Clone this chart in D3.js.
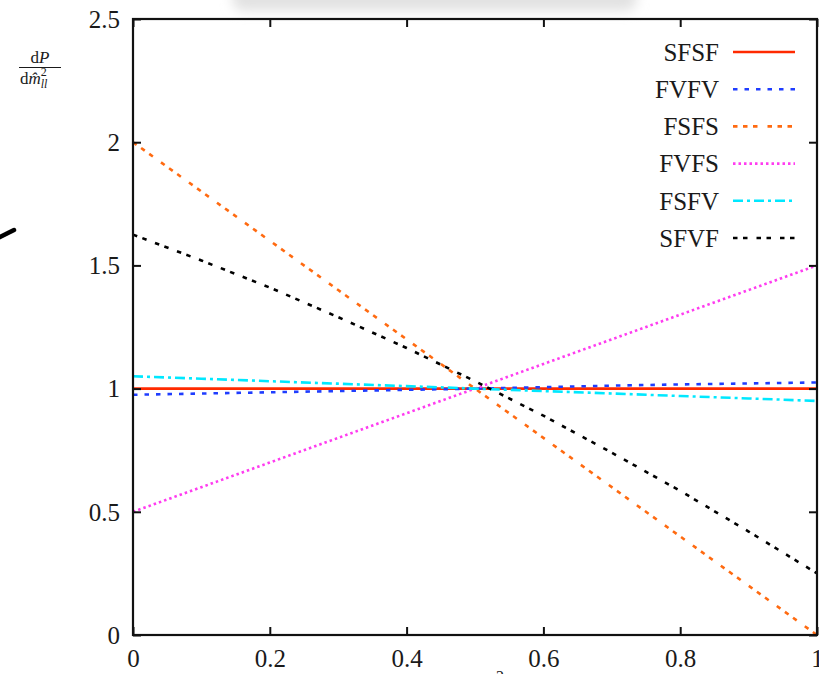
<!DOCTYPE html>
<html>
<head>
<meta charset="utf-8">
<script src="https://cdn.jsdelivr.net/npm/d3@7"></script>
<style>
  html, body { margin: 0; padding: 0; background: #fff; overflow: hidden; }
  svg { display: block; font-family: "Liberation Serif", "DejaVu Serif", serif; }
</style>
</head>
<body>
<div id="chart"></div>
<script>
// values
const xVals = [0, 0.1, 0.2, 0.3, 0.4, 0.5, 0.6, 0.7, 0.8, 0.9, 1];
const sfsf = [1, 1, 1, 1, 1, 1, 1, 1, 1, 1, 1];
const fvfv = [0.975, 0.98, 0.985, 0.99, 0.995, 1.0, 1.006, 1.012, 1.017, 1.021, 1.025];
const fsfs = [2, 1.8, 1.6, 1.4, 1.2, 1.0, 0.8, 0.6, 0.4, 0.2, 0];
const fvfs = [0.5, 0.6, 0.7, 0.8, 0.9, 1.0, 1.1, 1.2, 1.3, 1.4, 1.5];
const fsfv = [1.05, 1.04, 1.03, 1.02, 1.01, 1.0, 0.99, 0.98, 0.97, 0.96, 0.95];
const sfvf = [1.625, 1.52, 1.41, 1.29, 1.165, 1.03, 0.89, 0.74, 0.585, 0.42, 0.25];

const seriesNames = ['SFSF', 'FVFV', 'FSFS', 'FVFS', 'FSFV', 'SFVF'];
const seriesVals = [sfsf, fvfv, fsfs, fvfs, fsfv, sfvf];
const colors = ['#ff2a00', '#1f3dff', '#ff6a10', '#ff3cf0', '#00e8ff', '#000000'];
const dashes = [null, '4.5,7', '4.5,5.5,4.5,5.5,4.5,10', '2.5,3', '10,4,3,4', '4.5,5.5,4.5,9'];

const xTicks = [0, 0.2, 0.4, 0.6, 0.8, 1];
const xTickLabels = ['0', '0.2', '0.4', '0.6', '0.8', '1'];
const yTicks = [0, 0.5, 1, 1.5, 2, 2.5];
const yTickLabels = ['0', '0.5', '1', '1.5', '2', '2.5'];

const W = 819, H = 674;
const plotLeft = 133, plotRight = 817, plotTop = 19, plotBottom = 635;

const svg = d3.select('#chart').append('svg')
    .attr('width', W)
    .attr('height', H);

// blurred grey shadow at the top edge of the scan
const defs = svg.append('defs');
defs.append('filter').attr('id', 'blur')
    .attr('x', '-20%').attr('y', '-100%').attr('width', '140%').attr('height', '300%')
  .append('feGaussianBlur').attr('stdDeviation', 6);
svg.append('rect')
    .attr('x', 232).attr('y', -14).attr('width', 405).attr('height', 25)
    .attr('rx', 12)
    .attr('fill', '#e2e2e2')
    .attr('filter', 'url(#blur)');

const x = d3.scaleLinear().domain([0, 1]).range([plotLeft, plotRight]);
const y = d3.scaleLinear().domain([0, 2.5]).range([plotBottom, plotTop]);

// curves
const line = d3.line()
    .x((d, i) => x(xVals[i]))
    .y(d => y(d));

seriesVals.forEach((vals, k) => {
    svg.append('path')
        .datum(vals)
        .attr('d', line)
        .attr('fill', 'none')
        .attr('stroke', colors[k])
        .attr('stroke-width', 2.6)
        .attr('stroke-dasharray', dashes[k]);
});

// axes, ticks pointing inward on all four sides
const fmtX = (d, i) => xTickLabels[i];
const fmtY = (d, i) => yTickLabels[i];

const gx = svg.append('g').attr('transform', `translate(0,${plotBottom})`)
    .call(d3.axisBottom(x).tickValues(xTicks).tickFormat(fmtX).tickSize(-8).tickPadding(14));
const gxTop = svg.append('g').attr('transform', `translate(0,${plotTop})`)
    .call(d3.axisTop(x).tickValues(xTicks).tickFormat('').tickSize(-8));
const gy = svg.append('g').attr('transform', `translate(${plotLeft},0)`)
    .call(d3.axisLeft(y).tickValues(yTicks).tickFormat(fmtY).tickSize(-8).tickPadding(13));
const gyRight = svg.append('g').attr('transform', `translate(${plotRight},0)`)
    .call(d3.axisRight(y).tickValues(yTicks).tickFormat('').tickSize(-8));

[gx, gxTop, gy, gyRight].forEach(g => {
    g.select('.domain').remove();
    g.selectAll('.tick line').attr('stroke', '#111').attr('stroke-width', 2);
    g.selectAll('.tick text')
        .attr('fill', '#1a1a1a')
        .style('font-family', '"Liberation Serif", serif')
        .style('font-size', '25px');
});
gy.selectAll('.tick text').attr('dy', '0.33em');

// frame
svg.append('rect')
    .attr('x', plotLeft).attr('y', plotTop)
    .attr('width', plotRight - plotLeft).attr('height', plotBottom - plotTop)
    .attr('fill', 'none')
    .attr('stroke', '#111')
    .attr('stroke-width', 2.2);

// legend
const legend = svg.append('g');
seriesNames.forEach((name, k) => {
    const ly = 52 + k * 37.2;
    legend.append('text')
        .attr('x', 719).attr('y', ly)
        .attr('dy', '0.35em')
        .attr('text-anchor', 'end')
        .attr('fill', '#1a1a1a')
        .style('font-size', '25px')
        .text(name);
    legend.append('line')
        .attr('x1', 733).attr('x2', 795)
        .attr('y1', ly).attr('y2', ly)
        .attr('stroke', colors[k])
        .attr('stroke-width', 2.6)
        .attr('stroke-dasharray', dashes[k]);
});

// y axis label: dP / d m̂²_ll
const yl = svg.append('g').attr('fill', '#1a1a1a');
yl.append('text')
    .attr('x', 40).attr('y', 63)
    .attr('text-anchor', 'middle')
    .style('font-size', '17px')
    .html('d<tspan font-style="italic">P</tspan>');
yl.append('line')
    .attr('x1', 19).attr('x2', 61).attr('y1', 67.5).attr('y2', 67.5)
    .attr('stroke', '#1a1a1a').attr('stroke-width', 1.1);
yl.append('text')
    .attr('x', 20).attr('y', 84)
    .style('font-size', '17px')
    .html('d<tspan font-style="italic">m̂</tspan><tspan font-size="12px" dy="-8">2</tspan><tspan font-size="12px" font-style="italic" dx="-6" dy="12">ll</tspan>');

// x axis label (mostly cut off by the page bottom)
svg.append('text')
    .attr('x', 478).attr('y', 692)
    .attr('fill', '#1a1a1a')
    .style('font-size', '25px')
    .html('<tspan font-style="italic">m̂</tspan><tspan font-size="16px" dy="-10">2</tspan>');

// stray pen mark at the left edge
svg.append('line')
    .attr('x1', -2).attr('y1', 238).attr('x2', 14).attr('y2', 230)
    .attr('stroke', '#000').attr('stroke-width', 4.5).attr('stroke-linecap', 'round');
</script>
</body>
</html>
